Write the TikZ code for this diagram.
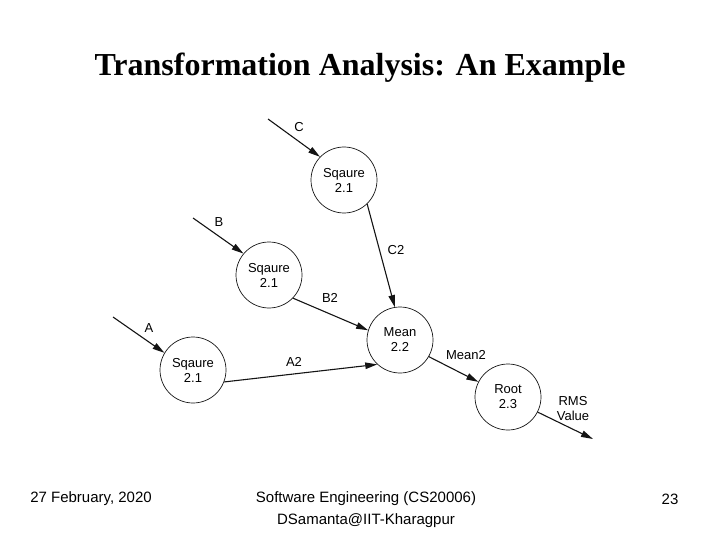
\documentclass[tikz,border=0pt]{standalone}
\usepackage{fontspec}
\setmainfont{Liberation Serif}
\setsansfont{Liberation Sans}
\usetikzlibrary{arrows.meta}
\definecolor{dfdLine}{RGB}{20, 20, 20}

\tikzset{
  proc/.style={circle, draw=dfdLine, line width=0.7pt, minimum size=66pt,
    inner sep=0pt, align=center, font=\sffamily\fontsize{13}{15}\selectfont},
  flow/.style={draw=dfdLine, line width=1.1pt,
    -{Triangle[length=12pt, width=6.5pt]}},
  flowlbl/.style={font=\sffamily\fontsize{13}{15}\selectfont, align=center},
  foot/.style={font=\sffamily\fontsize{15}{22}\selectfont, align=center}
}

\begin{document}
\begin{tikzpicture}[x=1pt, y=-1pt]
    \useasboundingbox (0,0) rectangle (720,540);
    \node[font=\bfseries\fontsize{32}{36}\selectfont] (title) at (360,68)
      {Transformation Analysis: An Example};

    % processes
    \foreach \nm/\x/\y in {sqC/344/180, sqB/269/275, sqA/193/370}{%
      \node[proc] (\nm) at (\x,\y) {Sqaure\\2.1};
    }
    \node[proc] (mean) at (400,340) {Mean\\2.2};
    \node[proc] (root) at (508,397) {Root\\2.3};

    % free ends of the flows
    \coordinate (inC) at (268,119);
    \coordinate (inB) at (193,218);
    \coordinate (inA) at (113,317);
    \coordinate (outRMS) at (593,439);

    \draw[flow] (inC) -- (sqC.136);
    \draw[flow] (inB) -- (sqB.140);
    \draw[flow] (inA) -- (sqA.149);
    \draw[flow] (sqC.-46) -- (mean.99);
    \draw[flow] (sqB.-44) -- (mean.163);
    \draw[flow] (sqA.-21) -- (mean.-133);
    \draw[flow] (mean.-30) -- (root.153);
    \draw[flow] (root.-27) -- (outRMS);

    % flow labels
    \node[flowlbl] (lblC) at (299,127) {C};
    \node[flowlbl] (lblB) at (219,222) {B};
    \node[flowlbl] (lblA) at (149,328) {A};
    \node[flowlbl] (lblC2) at (396,250) {C2};
    \node[flowlbl] (lblB2) at (330,298) {B2};
    \node[flowlbl] (lblA2) at (294,362) {A2};
    \node[flowlbl] (lblMean) at (466,355) {Mean2};
    \node[flowlbl] (lblRMS) at (573,409) {RMS\\Value};

    % footer
    \node[foot] (date) at (91,499) {27 February, 2020};
    \node[foot] (course) at (366,510)
      {Software Engineering (CS20006)\\DSamanta@IIT-Kharagpur};
    \node[foot] (page) at (670,499) {23};
  \end{tikzpicture}
\end{document}
